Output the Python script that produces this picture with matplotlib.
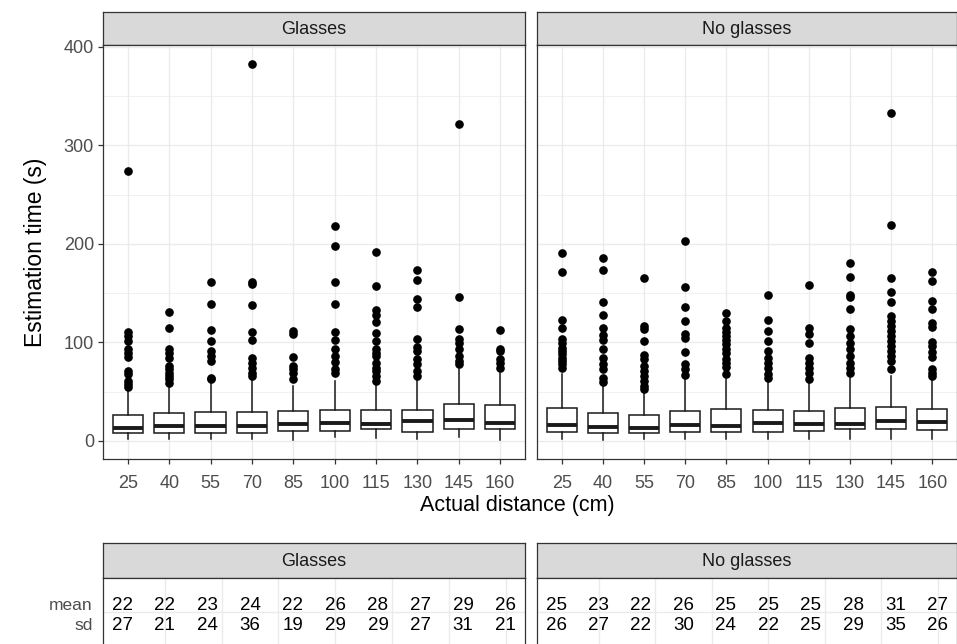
import matplotlib
matplotlib.use("Agg")
import matplotlib.pyplot as plt

plt.rcParams['font.family'] = ['Liberation Sans', 'DejaVu Sans']

distances = [25, 40, 55, 70, 85, 100, 115, 130, 145, 160]
facets = ["Glasses", "No glasses"]

# box summaries (s) per distance, glasses group
g_lo = [1.7, 1.7, 2.0, 2.0, 1.0, 4.4, 3.4, 2.4, 4.4, 1.0]
g_q1 = [8.4, 8.4, 8.4, 8.4, 10.1, 10.1, 11.8, 9.5, 11.8, 12.5]
g_med = [13.5, 15.0, 15.0, 15.0, 16.9, 17.9, 16.9, 20.3, 21.0, 18.6]
g_q3 = [26.4, 28.0, 29.7, 29.7, 30.4, 31.4, 31.4, 31.4, 37.2, 36.1]
g_hi = [50.7, 57.4, 59.0, 62.5, 55.7, 60.8, 57.4, 62.5, 72.6, 68.6]
g_out = [
    [274, 110.5, 106.4, 101.4, 92.9, 89.5, 85.5, 71, 67.6, 60.8, 57.4, 54.7],
    [130.7, 114.9, 92.9, 88.9, 84.5, 76, 72.6, 69.3, 65.9, 62.5, 59.1],
    [161, 138.9, 112.8, 101.4, 91.2, 86.1, 81, 64.2, 62.5],
    [382.7, 161, 159, 138, 111, 102.6, 84.5, 79.4, 74.4, 69.3, 66],
    [111.5, 109, 84.8, 76, 72.6, 68.6, 62.5],
    [217.9, 197.6, 161.8, 139.2, 110.8, 103, 92.9, 86.1, 80.1, 72.6, 68.6],
    [191.9, 157, 133.4, 127.7, 120.6, 109.8, 101.4, 92.9, 89.5, 86.1, 79.4,
     74.4, 71, 65.9, 60.8],
    [173.3, 163.9, 144.6, 135.8, 104, 95.6, 91.2, 82.8, 77.7, 71, 65.9],
    [321.8, 146.3, 113.9, 103.7, 99.7, 92.9, 86.1, 81, 77.7],
    [112.8, 93.6, 91.2, 83.5, 79.4, 74.4],
]

# box summaries (s) per distance, no-glasses group
n_lo = [2.4, 1.0, 1.7, 1.7, 1.7, 2.4, 2.4, 2.4, 1.7, 2.4]
n_q1 = [9.1, 7.8, 8.4, 9.1, 9.1, 9.1, 10.1, 11.8, 11.8, 10.8]
n_med = [16.2, 14.5, 13.5, 16.2, 15.0, 17.9, 16.9, 16.9, 20.3, 19.3]
n_q3 = [33.1, 28.7, 26.4, 30.4, 32.0, 31.4, 30.4, 33.8, 34.5, 32.8]
n_hi = [67.6, 55.7, 50.7, 62.5, 62.5, 60.8, 59.1, 64.2, 65.9, 62.5]
n_out = [
    [190.9, 171.3, 122.6, 114.2, 103.7, 99.7, 94.6, 91.2, 87.8, 84.5, 81,
     77.7, 74.4],
    [185.5, 174, 141.3, 127.7, 114.2, 107.1, 102.4, 92.9, 83.8, 77.7, 72.6,
     64.2, 59.8],
    [165.2, 116.6, 113.9, 101.4, 86.8, 82.8, 76, 71, 65.9, 60.8, 55.7, 53],
    [202.6, 156, 135.8, 121.3, 108.8, 104.4, 90.5, 77.7, 72.6, 66.6],
    [130, 121.6, 114.9, 110.5, 106.4, 102.4, 98, 92.9, 89.5, 83.5, 79.4,
     75.3, 67.6],
    [148.6, 123.3, 111.5, 101.4, 91.2, 84.5, 79.4, 74.4, 67.6, 64.2],
    [158.8, 114.9, 108.1, 99.7, 84.5, 79.4, 74.4, 69.3, 62.5],
    [180.7, 166.5, 148.6, 146.3, 134.1, 113.2, 106.4, 99.7, 92.9, 86.1, 79.4,
     74.4, 69.3],
    [333, 219.6, 165.9, 151, 141.3, 126.7, 121.6, 116.6, 111.5, 106.4, 101.4,
     96.3, 91.2, 86.1, 81, 72.6],
    [171.3, 162.8, 141.9, 134.1, 119.3, 115.9, 100.7, 96.3, 90.2, 85.5, 72.6,
     68.6, 65.9],
]

# summary table values
g_mean = [22, 22, 23, 24, 22, 26, 28, 27, 29, 26]
g_sd = [27, 21, 24, 36, 19, 29, 29, 27, 31, 21]
n_mean = [25, 23, 22, 26, 25, 25, 25, 28, 31, 27]
n_sd = [26, 27, 22, 30, 24, 22, 25, 29, 35, 26]
stat_rows = ["mean", "sd"]

W, H = 957, 644
BORDER = "#333333"
GRID = "#EBEBEB"
STRIP = "#D9D9D9"
TICKTXT = "#4D4D4D"


def fig_axes(fig, x0, y0, x1, y1):
    # place an axes from pixel box (top-left origin)
    return fig.add_axes([x0 / W, 1 - y1 / H, (x1 - x0) / W, (y1 - y0) / H])


def style_panel(ax):
    ax.set_facecolor("white")
    for s in ax.spines.values():
        s.set_color(BORDER)
        s.set_linewidth(0.9)
    ax.set_axisbelow(True)


def add_strip(fig, x0, y0, x1, y1, label):
    s = fig_axes(fig, x0, y0, x1, y1)
    s.set_facecolor(STRIP)
    s.set_xticks([])
    s.set_yticks([])
    for sp in s.spines.values():
        sp.set_color(BORDER)
        sp.set_linewidth(0.9)
    s.text(0.5, 0.47, label, ha="center", va="center", fontsize=13,
           color="#1A1A1A", transform=s.transAxes)


fig = plt.figure(figsize=(W / 100, H / 100), dpi=100)

panels = [
    (103, 525, g_lo, g_q1, g_med, g_q3, g_hi, g_out, g_mean, g_sd),
    (537, 957, n_lo, n_q1, n_med, n_q3, n_hi, n_out, n_mean, n_sd),
]

positions = list(range(1, len(distances) + 1))

for i, (x0, x1, lo, q1, med, q3, hi, out, mu, sd) in enumerate(panels):
    # --- boxplot panel ---
    add_strip(fig, x0, 12, x1, 45, facets[i])
    ax = fig_axes(fig, x0, 45, x1, 459)
    style_panel(ax)
    stats = [dict(whislo=lo[k], q1=q1[k], med=med[k], q3=q3[k],
                  whishi=hi[k], fliers=out[k]) for k in range(len(distances))]
    ax.bxp(stats, positions=positions, widths=0.73, showcaps=False,
           patch_artist=True,
           boxprops=dict(facecolor="white", edgecolor="#1A1A1A", linewidth=1.1),
           whiskerprops=dict(color="#1A1A1A", linewidth=1.1),
           medianprops=dict(color="#1A1A1A", linewidth=2.8, solid_capstyle="butt"),
           flierprops=dict(marker="o", markerfacecolor="black",
                           markeredgecolor="black", markersize=5.2))
    ax.set_xlim(0.4, len(distances) + 0.6)
    ax.set_ylim(-18.3, 402)
    ax.set_yticks([0, 100, 200, 300, 400])
    ax.set_yticks([50, 150, 250, 350], minor=True)
    ax.set_xticks(positions)
    ax.set_xticklabels([str(d) for d in distances])
    ax.grid(True, which="major", color=GRID, linewidth=1.0)
    ax.grid(True, which="minor", axis="y", color=GRID, linewidth=0.5)
    ax.tick_params(axis="both", which="major", length=3.5, width=0.9,
                   color=BORDER, labelsize=13, labelcolor=TICKTXT, pad=3)
    ax.tick_params(axis="x", which="major", pad=8)
    ax.tick_params(axis="y", which="minor", length=0)
    if i == 0:
        ax.set_ylabel("Estimation time (s)", fontsize=16.5, color="black",
                      labelpad=12)
    else:
        ax.tick_params(axis="y", which="both", left=False, labelleft=False)

    # --- summary table panel ---
    add_strip(fig, x0, 543, x1, 578, facets[i])
    tx = fig_axes(fig, x0, 578, x1, 680)
    style_panel(tx)
    tx.set_xlim(18.25, 166.75)
    tx.set_ylim(-1.72, 3.38)
    tx.set_xticks(range(40, 161, 20))
    tx.set_yticks([1.7])
    tx.grid(True, color=GRID, linewidth=1.0)
    tx.tick_params(axis="both", length=0, labelbottom=False, labelleft=False)
    for d, m, s in zip(distances, mu, sd):
        tx.text(d, 2, str(m), ha="center", va="center", fontsize=13.5,
                color="black")
        tx.text(d, 1, str(s), ha="center", va="center", fontsize=13.5,
                color="black")
    if i == 0:
        for yv, lab in zip([2, 1], stat_rows):
            tx.text(-0.024, yv, lab, ha="right", va="center", fontsize=12.5,
                    color=TICKTXT, transform=tx.get_yaxis_transform())

fig.text(517 / W, 1 - 505 / H, "Actual distance (cm)",
         ha="center", va="center", fontsize=15.5, color="black")

fig.savefig("out.png", dpi=100)
